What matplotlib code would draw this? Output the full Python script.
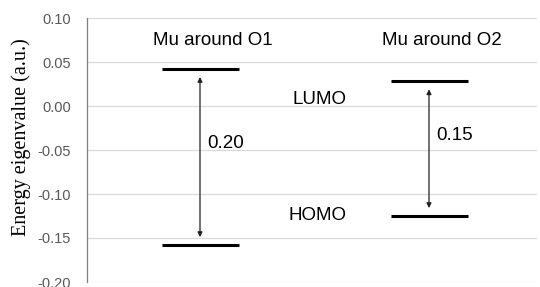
import matplotlib.pyplot as plt
import numpy as np

# Energy levels (a.u.)
systems = ['Mu around O1', 'Mu around O2']
lumo = [0.042, 0.028]
homo = [-0.158, -0.125]
gap_labels = ['0.20', '0.15']

yticks = [0.10, 0.05, 0.00, -0.05, -0.10, -0.15, -0.20]

fig = plt.figure(figsize=(5.4, 2.87), dpi=100)
ax = fig.add_axes([87/540, 5/287, 450/540, 264/287])

W = 450.0
centers = [(200 - 87)/W, (429 - 87)/W]
half = 38.5/W
font = 'Liberation Sans'

for i in range(len(systems)):
    c = centers[i]
    ax.hlines([lumo[i], homo[i]], c - half, c + half, color='black', lw=2.2)
    ax.annotate('', xy=(c, homo[i] + 0.009), xytext=(c, lumo[i] - 0.009),
                arrowprops=dict(arrowstyle='<|-|>', color='#222222', lw=0.9,
                                mutation_scale=7, shrinkA=0, shrinkB=0))
    ax.text(c + 7/W, (lumo[i] + homo[i])/2 + 0.015, gap_labels[i], fontsize=13.5,
            family=font, va='center', ha='left')
    ax.text(c + 13/W, 0.074, systems[i], fontsize=13.5, family=font,
            ha='center', va='center')

ax.text((292 - 87)/W, 0.007, 'LUMO', fontsize=13.5, family=font,
        ha='left', va='center')
ax.text((288 - 87)/W, -0.125, 'HOMO', fontsize=13.5, family=font,
        ha='left', va='center')

ax.set_xlim(0, 1)
ax.set_ylim(-0.20, 0.10)
ax.set_yticks(yticks)
ax.set_yticklabels(['%.2f' % v for v in yticks], family=font,
                   fontsize=10.5, color='#595959')
ax.set_xticks([])
ax.tick_params(axis='y', length=0, pad=11.5)
ax.grid(axis='y', color='#d9d9d9', lw=0.9)
ax.set_axisbelow(True)
for s in ['top', 'right', 'bottom']:
    ax.spines[s].set_visible(False)
ax.spines['left'].set_color('#7f7f7f')
ax.spines['left'].set_linewidth(0.9)
ax.set_ylabel('Energy eigenvalue (a.u.)', family='Liberation Serif', fontsize=14.5)
ax.yaxis.set_label_coords(-0.125, 0.55)

fig.savefig('out.png', dpi=100)
